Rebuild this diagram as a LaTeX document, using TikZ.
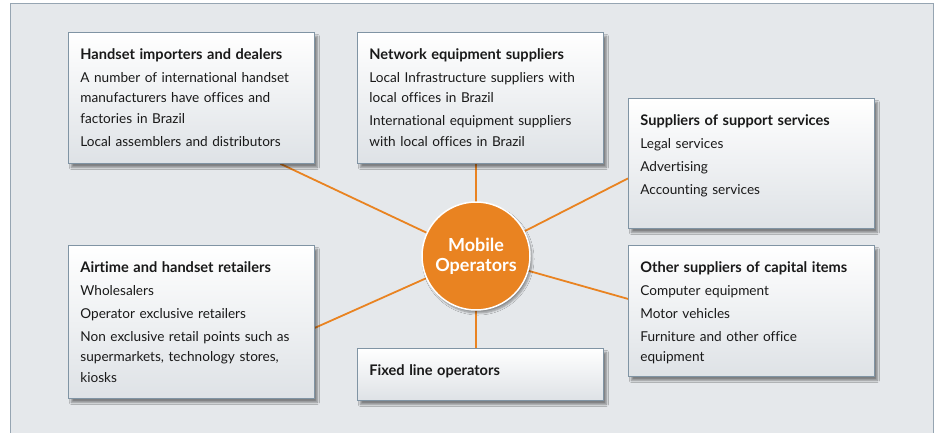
\documentclass[tikz,border=0pt]{standalone}
\usepackage{fontspec}
\setmainfont{Lato}[Ligatures=NoCommon]
\usetikzlibrary{shadows.blur}
\usetikzlibrary{backgrounds}
\definecolor{mobileorange}{RGB}{233,131,33}
\definecolor{boxedge}{RGB}{128,148,164}
\definecolor{boxbottom}{RGB}{222,226,230}
\definecolor{panelfill}{RGB}{229,232,235}
\definecolor{paneledge}{RGB}{150,165,178}
\definecolor{bodytext}{RGB}{25,25,25}
\newcommand{\headingfont}{\bfseries\fontsize{14.6}{20.5}\selectfont}

\begin{document}
\begin{tikzpicture}[x=1pt,y=-1pt,
  supplier/.style={draw=boxedge, line width=0.8pt, anchor=north west,
    top color=white, bottom color=boxbottom, text=bodytext,
    text width=222pt, inner xsep=12pt, inner ysep=0pt, text height=27pt,
    align=left, font=\fontsize{13.6}{20.5}\selectfont,
    blur shadow={shadow xshift=3pt, shadow yshift=-4pt, shadow blur steps=6, shadow opacity=45}},
  hub/.style={circle, fill=mobileorange, draw=white, line width=1.5pt,
    minimum size=108pt, inner sep=0pt, text=white, align=center,
    font=\bfseries\fontsize{18}{20}\selectfont,
    blur shadow={shadow xshift=2pt, shadow yshift=-3pt, shadow blur steps=6, shadow opacity=40}},
  link/.style={draw=mobileorange, line width=1.8pt}]
\useasboundingbox (0,0) rectangle (940,432);

\node[hub] (mobile) at (476,256) {Mobile\\Operators};

\node[supplier, text depth=104pt] (handset) at (68,32)
  {{\headingfont Handset importers and dealers}\\[2.5pt]
   A number of international handset\\
   manufacturers have offices and\\
   factories in Brazil\\[2.5pt]
   Local assemblers and distributors};
\node[supplier, text depth=104pt] (network) at (357,32)
  {{\headingfont Network equipment suppliers}\\[2.5pt]
   Local Infrastructure suppliers with\\
   local offices in Brazil\\[2.5pt]
   International equipment suppliers\\
   with local offices in Brazil};
\node[supplier, text depth=103pt] (support) at (628,98)
  {{\headingfont Suppliers of support services}\\[2.5pt]
   Legal services\\[2.5pt]
   Advertising\\[2.5pt]
   Accounting services};
\node[supplier, text depth=104pt] (capital) at (628,245)
  {{\headingfont Other suppliers of capital items}\\[2.5pt]
   Computer equipment\\[2.5pt]
   Motor vehicles\\[2.5pt]
   Furniture and other office\\
   equipment};
\node[supplier, text depth=126pt] (retail) at (68,245)
  {{\headingfont Airtime and handset retailers}\\[2.5pt]
   Wholesalers\\[2.5pt]
   Operator exclusive retailers\\[2.5pt]
   Non exclusive retail points such as\\
   supermarkets, technology stores,\\
   kiosks};
\node[supplier, text depth=25pt] (fixed) at (357,348)
  {{\headingfont Fixed line operators}};

\begin{pgfonlayer}{background}
\fill[panelfill, draw=paneledge, line width=0.8pt] (10.5,3) rectangle (933,445);
\draw[link] (mobile.center) -- ([xshift=89pt]handset.south);
\draw[link] (mobile.center) -- (mobile |- network.south);
\draw[link] (mobile.center) -- ([yshift=-15pt]support.west);
\draw[link] (mobile.center) -- ([yshift=12pt]capital.west);
\draw[link] (mobile.center) -- ([yshift=-6pt]retail.east);
\draw[link] (mobile.center) -- (mobile |- fixed.north);
\end{pgfonlayer}
\end{tikzpicture}
\end{document}
